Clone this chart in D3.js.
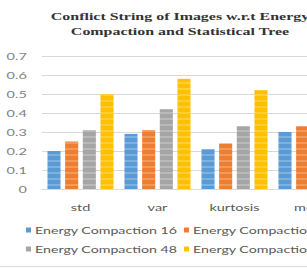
<!DOCTYPE html>
<html>
<head>
<meta charset="utf-8">
<script src="https://cdn.jsdelivr.net/npm/d3@7"></script>
<style>
  html, body { margin: 0; padding: 0; background: #fff; overflow: hidden; }
  svg { display: block; }
</style>
</head>
<body>
<div id="chart"></div>
<script>
'use strict';

var categories = ['std', 'var', 'kurtosis', 'mean'],
    seriesNames = ['Energy Compaction 16', 'Energy Compaction 32',
                   'Energy Compaction 48', 'Energy Compaction 64'],
    seriesColors = ['#5b9bd5', '#ed7d31', '#a5a5a5', '#ffc000'],
    ec16 = [0.20, 0.29, 0.21, 0.30],
    ec32 = [0.25, 0.31, 0.24, 0.33],
    ec48 = [0.31, 0.42, 0.33, 0.44],
    ec64 = [0.50, 0.58, 0.52, 0.55],
    yTicks = [0, 0.1, 0.2, 0.3, 0.4, 0.5, 0.6, 0.7],
    titleLines = ['Conflict String of Images w.r.t Energy',
                  'Compaction and Statistical Tree'];

var seriesValues = [ec16, ec32, ec48, ec64];

// the picture is a horizontally stretched crop of a wider chart, so we
// draw in a narrow space and let the viewBox stretch it out
var width = 307,
    height = 268,
    sx = 1.45,
    innerW = width / sx,
    chartWidth = 360 / sx,
    plot = {left: 42 / sx, right: 350 / sx, top: 56, bottom: 189};

var svg = d3.select('#chart').append('svg')
    .attr('width', width)
    .attr('height', height)
    .attr('viewBox', '0 0 ' + innerW + ' ' + height)
    .attr('preserveAspectRatio', 'none');

// horizontal stripe patterns for the bars
var defs = svg.append('defs');
seriesColors.forEach(function(c, i) {
    var p = defs.append('pattern')
        .attr('id', 'stripe' + i)
        .attr('patternUnits', 'userSpaceOnUse')
        .attr('width', 8)
        .attr('height', 6);
    p.append('rect').attr('width', 8).attr('height', 6).attr('fill', c);
    p.append('rect').attr('y', 4).attr('width', 8).attr('height', 2)
        .attr('fill', '#fff').attr('opacity', 0.22);
});

// title
svg.append('g').selectAll('text')
    .data(titleLines)
    .enter().append('text')
        .attr('x', chartWidth / 2)
        .attr('y', function(d, i) { return 20 + i * 15; })
        .attr('text-anchor', 'middle')
        .style('font-family', '"Liberation Serif", "DejaVu Serif", serif')
        .style('font-weight', 'bold')
        .style('font-size', '11px')
        .style('fill', '#333')
        .text(function(d) { return d; });

var y = d3.scaleLinear()
    .domain([0, 0.7])
    .range([plot.bottom, plot.top]);

var x0 = d3.scaleBand()
    .domain(categories)
    .range([plot.left, plot.right]);

var x1 = d3.scaleBand()
    .domain(d3.range(seriesNames.length))
    .range([0, x0.bandwidth()])
    .paddingInner(0.26)
    .paddingOuter(0.31);

// gridlines + y tick labels
var yAxis = d3.axisLeft(y)
    .tickValues(yTicks)
    .tickSize(-(chartWidth - plot.left))
    .tickPadding(10.5)
    .tickFormat(function(d) { return d === 0 ? '0' : d3.format('.1f')(d); });

var gAxis = svg.append('g')
    .attr('transform', 'translate(' + plot.left + ',0)')
    .call(yAxis);

gAxis.select('.domain').remove();
gAxis.selectAll('.tick line')
    .attr('stroke', '#d9d9d9')
    .attr('stroke-width', 1);
gAxis.selectAll('.tick text')
    .style('font-family', 'Lato, "Open Sans", sans-serif')
    .style('font-size', '10px')
    .style('fill', '#7f7f7f');

// bars
var groups = svg.append('g').selectAll('g.cat')
    .data(categories)
    .enter().append('g')
        .attr('class', 'cat')
        .attr('transform', function(d) { return 'translate(' + x0(d) + ',0)'; });

groups.selectAll('rect')
    .data(function(d, ci) {
        return seriesValues.map(function(vals, si) { return {si: si, v: vals[ci]}; });
    })
    .enter().append('rect')
        .attr('x', function(d) { return x1(d.si); })
        .attr('width', x1.bandwidth())
        .attr('y', function(d) { return y(d.v); })
        .attr('height', function(d) { return y(0) - y(d.v); })
        .attr('fill', function(d) { return 'url(#stripe' + d.si + ')'; });

// category labels
svg.append('g').selectAll('text')
    .data(categories)
    .enter().append('text')
        .attr('x', function(d) { return x0(d) + x0.bandwidth() / 2; })
        .attr('y', 211)
        .attr('text-anchor', 'middle')
        .style('font-family', 'Lato, "Open Sans", sans-serif')
        .style('font-size', '10px')
        .style('fill', '#595959')
        .text(function(d) { return d; });

// legend, two rows of two
var legendCols = [26 / sx, 184 / sx],
    legendRows = [234, 253];

var legend = svg.append('g').selectAll('g.leg')
    .data(seriesNames)
    .enter().append('g')
        .attr('class', 'leg')
        .attr('transform', function(d, i) {
            return 'translate(' + legendCols[i % 2] + ',' + legendRows[Math.floor(i / 2)] + ')';
        });

legend.append('rect')
    .attr('x', 0)
    .attr('y', -6.5)
    .attr('width', 5 / sx)
    .attr('height', 5)
    .attr('fill', function(d, i) { return seriesColors[i]; });

legend.append('text')
    .attr('x', 9 / sx)
    .attr('y', 0)
    .style('font-family', 'Lato, "Open Sans", sans-serif')
    .style('font-size', '9.8px')
    .style('fill', '#595959')
    .text(function(d) { return d; });

// chart border along the bottom edge
svg.append('line')
    .attr('x1', 0).attr('x2', innerW)
    .attr('y1', height - 1.5).attr('y2', height - 1.5)
    .attr('stroke', '#d9d9d9');
</script>
</body>
</html>
